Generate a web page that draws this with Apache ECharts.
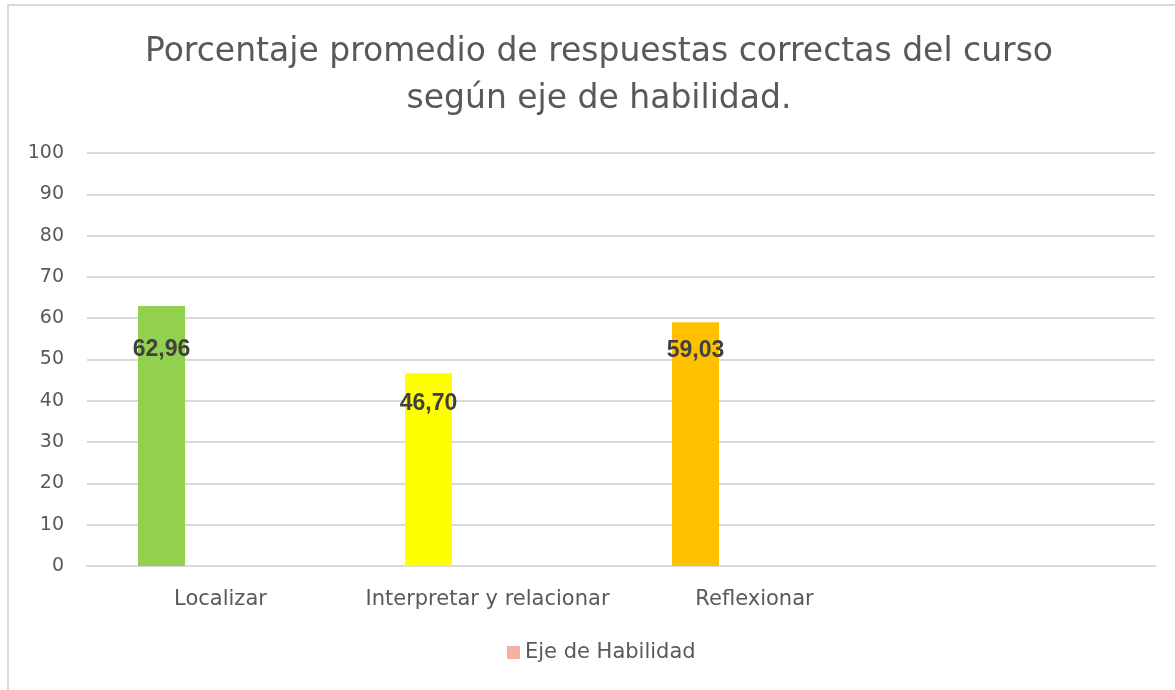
<!DOCTYPE html>
<html>
<head>
<meta charset="utf-8">
<script src="https://cdn.jsdelivr.net/npm/echarts@6/dist/echarts.min.js"></script>
<style>
  html, body { margin: 0; padding: 0; background: #fff; overflow: hidden; }
  #frame {
    position: absolute; left: 7px; top: 4px; width: 1200px; height: 720px;
    border: 2px solid #d9d9d9; box-sizing: border-box;
  }
  #chart { position: absolute; left: 0; top: 0; width: 1175px; height: 690px; }
</style>
</head>
<body>
<div id="frame"></div>
<div id="chart"></div>
<script>
// datos del grafico
var categorias = ['Localizar', 'Interpretar y relacionar', 'Reflexionar', ''];
var valores = [62.96, 46.70, 59.03, null];
var colores = ['#92d050', '#ffff00', '#ffc000', '#ffc000'];
var ticksY = [0, 10, 20, 30, 40, 50, 60, 70, 80, 90, 100];

var myechart = echarts.init(document.getElementById('chart'));

// distancia de la etiqueta desde el tope de la barra (la primera va mas abajo)
var distEtiqueta = [32, 19, 17, 17];

var datosBarra = valores.map(function (v, i) {
  return {
    value: v,
    itemStyle: { color: colores[i] },
    label: { distance: distEtiqueta[i] }
  };
});

myechart.setOption({
  animation: false,
  title: {
    text: 'Porcentaje promedio de respuestas correctas del curso\nsegún eje de habilidad.',
    left: 594,
    textAlign: 'center',
    top: 24,
    textStyle: {
      fontFamily: 'DejaVu Sans',
      fontSize: 33,
      fontWeight: 'normal',
      color: '#595959',
      lineHeight: 47
    }
  },
  legend: {
    data: ['Eje de Habilidad'],
    left: 502,
    top: 637,
    icon: 'rect',
    itemWidth: 13,
    itemHeight: 13,
    itemGap: 4,
    textStyle: { fontFamily: 'DejaVu Sans', fontSize: 21, color: '#595959' }
  },
  grid: { left: 87, right: 20, top: 153, bottom: 124 },
  xAxis: {
    type: 'category',
    data: categorias,
    axisLine: { lineStyle: { color: '#d9d9d9', width: 2 } },
    axisTick: { show: false },
    axisLabel: {
      fontFamily: 'DejaVu Sans',
      fontSize: 21,
      color: '#595959',
      margin: 23,
      interval: 0
    }
  },
  yAxis: {
    type: 'value',
    min: ticksY[0],
    max: ticksY[ticksY.length - 1],
    interval: 10,
    axisLine: { show: false },
    axisTick: { show: false },
    splitLine: { lineStyle: { color: '#d9d9d9', width: 2 } },
    axisLabel: {
      fontFamily: 'DejaVu Sans',
      fontSize: 19,
      color: '#595959',
      margin: 23
    }
  },
  series: [
    {
      name: 'Eje de Habilidad',
      type: 'bar',
      barWidth: 47,
      barGap: '151%',
      itemStyle: { color: '#f4b0a0' },
      label: {
        show: true,
        position: 'insideTop',
        fontFamily: 'Arial',
        fontWeight: 'bold',
        fontSize: 23,
        color: '#404040',
        formatter: function (p) {
          return p.value == null ? '' : p.value.toFixed(2).replace('.', ',');
        }
      },
      data: datosBarra
    },
    {
      // serie vacia para desplazar las barras a la izquierda como en Excel
      name: 'vacio',
      type: 'bar',
      barWidth: 47,
      data: [null, null, null, null]
    }
  ]
});
</script>
</body>
</html>
